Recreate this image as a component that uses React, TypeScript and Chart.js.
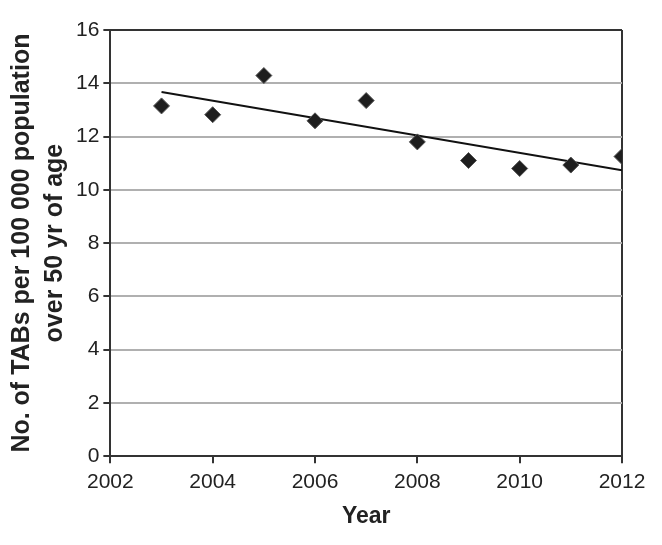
import React, { useEffect, useRef } from "react";
import { Chart, registerables } from "chart.js";

Chart.register(...registerables);

const years = [2003, 2004, 2005, 2006, 2007, 2008, 2009, 2010, 2011, 2012];
const rates = [13.15, 12.82, 14.29, 12.59, 13.35, 11.8, 11.1, 10.8, 10.93, 11.25];
const trendYears = [2003, 2012];
const trendValues = [13.67, 10.73];
const yTitle = ["No. of TABs per 100 000 population", "over 50 yr of age"];
const xTitle = "Year";

export default function App() {
  const ref = useRef<HTMLCanvasElement>(null);
  useEffect(() => {
    const ctx = ref.current!;
    const chart = new Chart(ctx, {
      type: "scatter",
      data: {
        datasets: [
          {
            data: years.map((y, i) => ({ x: y, y: rates[i] })),
            pointStyle: "rectRot",
            pointRadius: 8,
            backgroundColor: "#1e1e1e",
            borderColor: "#555",
            borderWidth: 1,
          },
          {
            data: trendYears.map((y, i) => ({ x: y, y: trendValues[i] })),
            showLine: true,
            pointRadius: 0,
            borderColor: "#111",
            borderWidth: 2,
          },
        ],
      },
      options: {
        animation: false,
        responsive: false,
        layout: { padding: { left: 6, right: 40, top: 30, bottom: 15 } },
        plugins: { legend: { display: false }, tooltip: { enabled: false } },
        scales: {
          x: {
            type: "linear",
            min: 2002,
            max: 2012,
            ticks: {
              stepSize: 2,
              callback: (v: any) => String(v),
              color: "#222",
              font: { family: "Liberation Sans, Arial", size: 21 },
              padding: 6,
            },
            grid: {
              color: (c: any) => (c.tick && c.tick.value === 2012 ? "#333" : "rgba(0,0,0,0)"),
              lineWidth: 2,
              tickColor: "#333",
              tickLength: 7,
            },
            border: { color: "#333", width: 2 },
            title: {
              display: true,
              text: xTitle,
              color: "#222",
              font: { family: "Liberation Sans, Arial", size: 23, weight: "bold" },
              padding: { top: 2, bottom: 0 },
            },
          },
          y: {
            min: 0,
            max: 16,
            ticks: {
              stepSize: 2,
              color: "#222",
              font: { family: "Liberation Sans, Arial", size: 21 },
              padding: 4,
            },
            grid: {
              color: (c: any) => (c.tick && c.tick.value === 16 ? "#333" : "#b0b0b0"),
              lineWidth: 2,
              tickColor: "#333",
              tickLength: 7,
            },
            border: { color: "#333", width: 2 },
            title: {
              display: true,
              text: yTitle,
              color: "#222",
              font: { family: "Liberation Sans, Arial", size: 25, weight: "bold", lineHeight: 1.32 },
              padding: { top: 0, bottom: 0 },
            },
          },
        },
      },
    });
    return () => chart.destroy();
  }, []);
  return (
    <div style={{ position: "absolute", left: 0, top: 0, width: 662, height: 545, background: "#fff" }}>
      <canvas ref={ref} width={662} height={545} style={{ width: 662, height: 545 }} />
    </div>
  );
}
